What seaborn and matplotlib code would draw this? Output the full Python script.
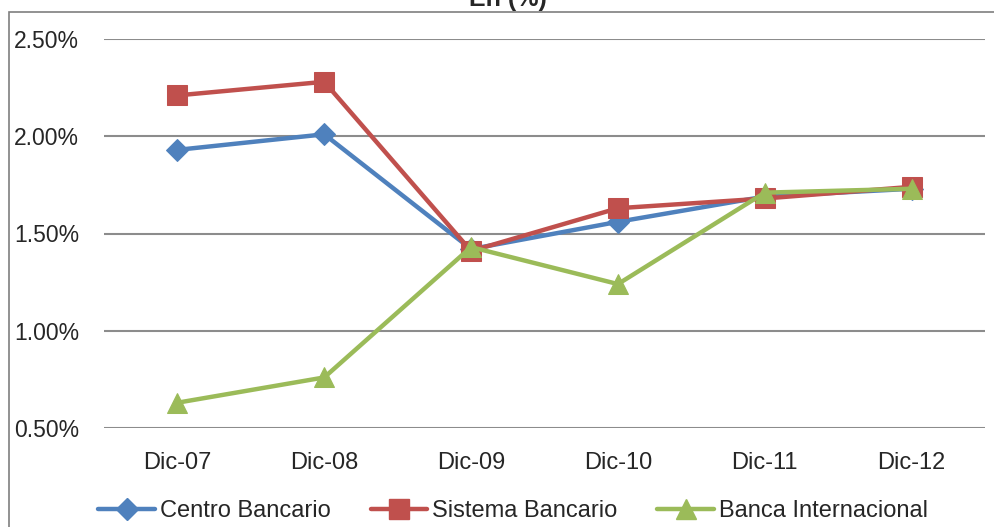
import pandas as pd
import matplotlib
matplotlib.use('Agg')
import matplotlib.pyplot as plt
import seaborn as sns
from matplotlib.lines import Line2D
from matplotlib.patches import Rectangle
from matplotlib.ticker import FuncFormatter

# Data
periodos = ['Dic-07', 'Dic-08', 'Dic-09', 'Dic-10', 'Dic-11', 'Dic-12']
centro_bancario = [1.93, 2.01, 1.42, 1.56, 1.69, 1.73]
sistema_bancario = [2.21, 2.28, 1.41, 1.63, 1.68, 1.74]
banca_internacional = [0.63, 0.76, 1.43, 1.24, 1.71, 1.73]
series = ['Centro Bancario', 'Sistema Bancario', 'Banca Internacional']

df = pd.DataFrame({
    'Periodo': periodos * 3,
    'Valor': centro_bancario + sistema_bancario + banca_internacional,
    'Serie': [s for s in series for _ in periodos],
})

colors = ['#4F81BD', '#C0504D', '#9BBB59']
markers = ['D', 's', '^']
msizes = [11, 14, 14]

sns.set_style('white')
plt.rcParams['font.family'] = ['Liberation Sans', 'DejaVu Sans']

fig = plt.figure(figsize=(9.95, 5.27), dpi=100)
ax = fig.add_axes([104 / 995, 1 - 428 / 527, (985 - 104) / 995, (428 - 39) / 527])

for s, c, m, ms in zip(series, colors, markers, msizes):
    sns.lineplot(data=df[df['Serie'] == s], x='Periodo', y='Valor', color=c,
                 marker=m, markersize=ms, markeredgecolor=c, linewidth=3.2,
                 ax=ax, legend=False)

ax.set_xlim(-0.5, 5.5)
ax.set_ylim(0.5, 2.5)
ax.set_yticks([0.5, 1.0, 1.5, 2.0, 2.5])
ax.yaxis.set_major_formatter(FuncFormatter(lambda v, p: f'{v:.2f}%'))
ax.grid(axis='y', color='#8c8c8c', linewidth=1.5)
ax.grid(axis='x', visible=False)
ax.set_axisbelow(True)
for sp in ax.spines.values():
    sp.set_visible(False)
ax.set_xlabel('')
ax.set_ylabel('')
ax.tick_params(axis='x', length=0, labelsize=17, pad=17)
ax.tick_params(axis='y', length=0, labelsize=16.5, pad=18)

handles = [Line2D([0], [0], color=c, marker=m, markersize=ms, linewidth=3.2)
           for c, m, ms in zip(colors, markers, msizes)]
fig.legend(handles, series, loc='center', bbox_to_anchor=(513 / 995, 1 - 511 / 527),
           ncol=3, frameon=False, fontsize=17, handlelength=2.4,
           handletextpad=0.2, columnspacing=1.7)

# chart border (cropped on right/bottom)
fig.patches.append(Rectangle((9 / 995, -0.1), 1.2, 1 - 12 / 527 + 0.1,
                             transform=fig.transFigure, fill=False,
                             edgecolor='#7f7f7f', linewidth=1.2))
fig.text(508 / 995, 1 - 6 / 527, 'En (%)', ha='center', va='baseline',
         fontsize=18, fontweight='bold')

fig.savefig('out.png', dpi=100)
